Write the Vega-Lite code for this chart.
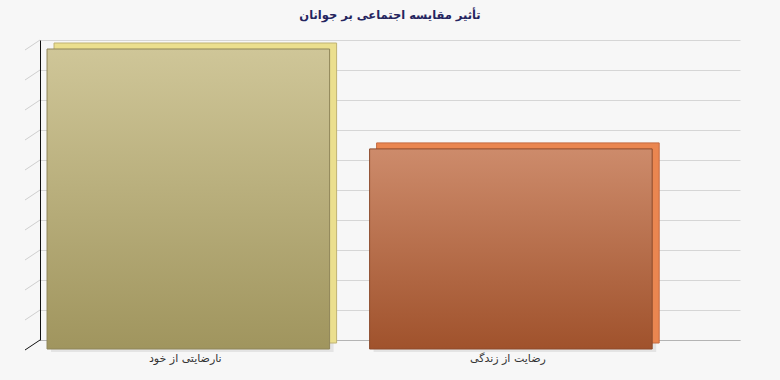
{
  "$schema": "https://vega.github.io/schema/vega-lite/v6.json",
  "width": 700,
  "height": 300,
  "autosize": {"type": "none"},
  "padding": {"left": 40, "top": 40, "right": 40, "bottom": 40},
  "background": "#f7f7f7",
  "title": {
    "text": "تأثیر مقایسه اجتماعی بر جوانان",
    "font": "DejaVu Sans",
    "fontSize": 11.5,
    "fontWeight": "bold",
    "color": "#25255f",
    "anchor": "middle",
    "offset": 18
  },
  "config": {
    "view": {"stroke": null},
    "font": "DejaVu Sans"
  },
  "datasets": {
    "bars": [
      {"cat": "نارضایتی از خود", "value": 10},
      {"cat": "رضایت از زندگی", "value": 6.67}
    ],
    "ticks": [
      {"t": 0}, {"t": 1}, {"t": 2}, {"t": 3}, {"t": 4}, {"t": 5},
      {"t": 6}, {"t": 7}, {"t": 8}, {"t": 9}, {"t": 10}
    ]
  },
  "encoding": {
    "x": {"field": "cat", "type": "nominal", "sort": null,
          "scale": {"paddingInner": 0.124, "paddingOuter": 0.147, "align": 0.074},
          "axis": {"title": null, "ticks": false, "domainColor": "#b4b4b4", "domainWidth": 1,
                   "labelAngle": 0, "labelFont": "DejaVu Sans", "labelFontSize": 11,
                   "labelColor": "#333333", "labelPadding": 12, "labelOffset": -3}},
    "y": {"field": "value", "type": "quantitative",
          "scale": {"domain": [0, 10], "nice": false},
          "axis": {"title": null, "labels": false, "ticks": false, "tickCount": 10,
                   "domainColor": "#111111", "domainWidth": 1,
                   "gridColor": "#d6d6d6", "gridWidth": 1}}
  },
  "layer": [
    {
      "data": {"name": "bars"},
      "mark": {"type": "bar", "fill": "#e4e4e4", "xOffset": 4, "yOffset": 20, "y2Offset": 12},
      "encoding": {"y2": {"datum": 0}}
    },
    {
      "data": {"name": "bars"},
      "mark": {"type": "bar", "xOffset": 7, "yOffset": 3, "y2Offset": 3, "strokeWidth": 1},
      "encoding": {
        "y2": {"datum": 0},
        "fill": {"field": "cat", "type": "nominal", "legend": null,
                 "scale": {"domain": ["نارضایتی از خود", "رضایت از زندگی"], "range": ["#ebdf8e", "#ea8650"]}},
        "stroke": {"field": "cat", "type": "nominal", "legend": null,
                   "scale": {"domain": ["نارضایتی از خود", "رضایت از زندگی"], "range": ["#bfb272", "#c46a40"]}}
      }
    },
    {
      "data": {"name": "bars"},
      "transform": [{"filter": "datum.cat == 'نارضایتی از خود'"}],
      "mark": {"type": "bar", "yOffset": 9, "y2Offset": 9, "stroke": "#8f855a", "strokeWidth": 1,
               "fill": {"gradient": "linear", "x1": 0, "y1": 0, "x2": 0, "y2": 1,
                        "stops": [{"offset": 0, "color": "#cfc698"}, {"offset": 1, "color": "#a0955e"}]}},
      "encoding": {"y2": {"datum": 0}}
    },
    {
      "data": {"name": "bars"},
      "transform": [{"filter": "datum.cat == 'رضایت از زندگی'"}],
      "mark": {"type": "bar", "yOffset": 9, "y2Offset": 9, "stroke": "#8c4b2c", "strokeWidth": 1,
               "fill": {"gradient": "linear", "x1": 0, "y1": 0, "x2": 0, "y2": 1,
                        "stops": [{"offset": 0, "color": "#cd8b6b"}, {"offset": 1, "color": "#a0522c"}]}},
      "encoding": {"y2": {"datum": 0}}
    },
    {
      "data": {"name": "ticks"},
      "mark": {"type": "rule", "strokeWidth": 1, "yOffset": 0, "y2Offset": 10},
      "encoding": {
        "x": {"value": 0},
        "x2": {"value": -15},
        "y": {"field": "t", "type": "quantitative"},
        "y2": {"field": "t"},
        "color": {"condition": {"test": "datum.t == 0", "value": "#111111"}, "value": "#cfcfcf"}
      }
    }
  ]
}
